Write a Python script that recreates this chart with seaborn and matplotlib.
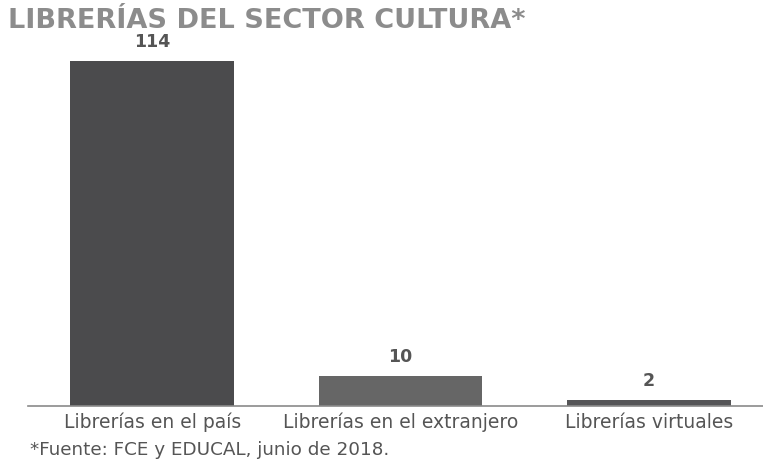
import matplotlib.pyplot as plt
import seaborn as sns
import pandas as pd

# Data
categories = ['Librerías en el país', 'Librerías en el extranjero', 'Librerías virtuales']
values = [114, 10, 2]
bar_colors = ['#4b4b4d', '#666666', '#555557']

title = 'LIBRERÍAS DEL SECTOR CULTURA*'
footnote = '*Fuente: FCE y EDUCAL, junio de 2018.'


def main():
    df = pd.DataFrame({'categoria': categories, 'valor': values})

    sns.set_style('white')
    plt.rcParams['font.family'] = ['DejaVu Sans']

    fig = plt.figure(figsize=(7.63, 4.59), dpi=100)
    ax = fig.add_axes([28 / 763, 53 / 459, 1 - 28 / 763, (406 - 61) / 459])

    sns.barplot(data=df, x='categoria', y='valor', hue='categoria',
                palette=bar_colors, width=0.66, legend=False, ax=ax,
                saturation=1, edgecolor='none')

    ax.set_ylim(0, 114)
    ax.set_xlim(-0.5, 2.46)
    ax.set_xlabel('')
    ax.set_ylabel('')
    ax.set_yticks([])
    for side in ['top', 'right', 'left']:
        ax.spines[side].set_visible(False)
    ax.spines['bottom'].set_color('#8a8a8a')
    ax.spines['bottom'].set_linewidth(1.2)

    # category labels, with small ticks at the boundaries
    ax.tick_params(axis='x', which='major', length=0, pad=5,
                   labelsize=13.5, labelcolor='#555555')
    ax.set_xticks([-0.5, 0.5, 1.5], minor=True)
    ax.tick_params(axis='x', which='minor', length=3, width=1.2, color='#8a8a8a')

    # value labels
    for i, v in enumerate(values):
        ax.text(i, v + 3.3, str(v), ha='center', va='bottom',
                fontsize=12.5, fontweight='bold', color='#555555', clip_on=False)

    fig.text(8 / 763, 1 - 21 / 459, title, ha='left', va='center',
             fontsize=19.5, fontweight='bold', color='#8c8c8c')
    fig.text(30 / 763, 1 - 450 / 459, footnote, ha='left', va='center',
             fontsize=13.2, color='#555555')

    fig.savefig('out.png', dpi=100)
    plt.close(fig)


if __name__ == '__main__':
    main()
